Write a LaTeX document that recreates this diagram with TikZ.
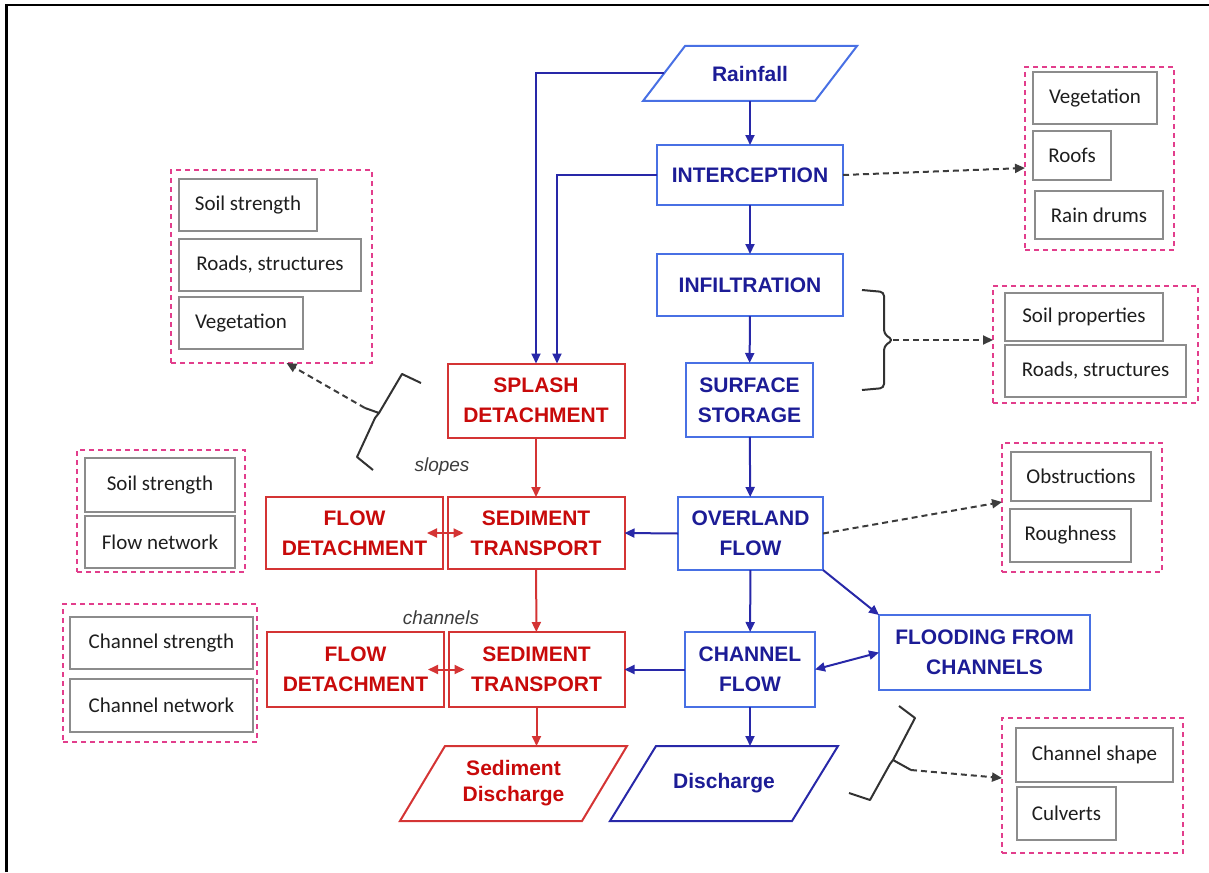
\documentclass[tikz,border=0pt]{standalone}
\usepackage{fontspec}
\setmainfont{Liberation Sans}
\newfontfamily\calibri{Carlito}
\usetikzlibrary{arrows.meta,positioning}

\definecolor{blueline}{RGB}{72,112,228}
\definecolor{bluetext}{RGB}{28,28,150}
\definecolor{bluearrow}{RGB}{40,40,168}
\definecolor{redline}{RGB}{212,52,52}
\definecolor{redtext}{RGB}{200,10,10}
\definecolor{groupline}{RGB}{226,62,140}
\definecolor{factorline}{RGB}{140,140,140}
\definecolor{factortext}{RGB}{30,30,30}
\definecolor{dashgray}{RGB}{60,60,60}
\definecolor{bracegray}{RGB}{50,50,50}

\begin{document}
\begin{tikzpicture}[x=1pt, y=-1pt,
    >={Triangle[length=10pt,width=9pt]},
    bluebox/.style={rectangle, draw=blueline, line width=2pt, text=bluetext, align=center, inner sep=2pt, outer sep=0pt, font=\bfseries\fontsize{21}{30}\selectfont},
    redbox/.style={rectangle, draw=redline, line width=2pt, text=redtext, align=center, inner sep=2pt, outer sep=0pt, font=\bfseries\fontsize{21}{30}\selectfont},
    io/.style={rectangle, inner sep=2pt, outer sep=0pt, align=center, font=\bfseries\fontsize{21}{26}\selectfont},
    factor/.style={rectangle, draw=factorline, line width=2pt, text=factortext, inner sep=2pt, outer sep=0pt, font=\calibri\fontsize{21}{25}\selectfont},
    group/.style={rectangle, draw=groupline, line width=2pt, dash pattern=on 5pt off 4pt, outer sep=0pt},
    arrow/.style={->, line width=2pt, draw=bluearrow},
    redarrow/.style={->, line width=2pt, draw=redline},
    dasharrow/.style={->, line width=2pt, dash pattern=on 6pt off 4pt, draw=dashgray},
    brace/.style={line width=2pt, draw=bracegray, line join=round},
    note/.style={font=\itshape\fontsize{19}{22}\selectfont, text=dashgray}
]
\useasboundingbox (0,0) rectangle (1209,872);

% frame
\draw[line width=2.5pt] (6.5,872) -- (6.5,5) -- (1209,5);

% water path
\node[io, text=bluetext, minimum width=172pt, minimum height=55pt] (rain) at (750,73.5) {Rainfall};
\node[bluebox, minimum width=186pt, minimum height=60pt] (intercept) at (750,175) {INTERCEPTION};
\node[bluebox, minimum width=186pt, minimum height=62pt] (infil) at (750,285) {INFILTRATION};
\node[bluebox, minimum width=127pt, minimum height=74pt] (storage) at (749.5,400) {SURFACE\\STORAGE};
\node[bluebox, minimum width=145pt, minimum height=73pt] (overland) at (750.5,533.5) {OVERLAND\\FLOW};
\node[bluebox, minimum width=130pt, minimum height=75pt] (chanflow) at (750,669.5) {CHANNEL\\FLOW};
\node[bluebox, minimum width=211pt, minimum height=75pt] (flooding) at (984.5,652.5) {FLOODING FROM\\CHANNELS};
\node[io, text=bluetext, minimum width=182pt, minimum height=75pt] (disch) at (724,783.5) {Discharge};

% sediment path
\node[redbox, minimum width=177pt, minimum height=74pt] (splash) at (536,400.5) {SPLASH\\DETACHMENT};
\node[redbox, minimum width=177pt, minimum height=72pt] (sedA) at (536,533) {SEDIMENT\\TRANSPORT};
\node[redbox, minimum width=177pt, minimum height=72pt] (detA) at (354.5,533) {FLOW\\DETACHMENT};
\node[redbox, minimum width=176pt, minimum height=75pt] (sedB) at (536.5,669.5) {SEDIMENT\\TRANSPORT};
\node[redbox, minimum width=177pt, minimum height=75pt] (detB) at (355.5,669.5) {FLOW\\DETACHMENT};
\node[io, text=redtext, minimum width=182pt, minimum height=75pt] (seddis) at (513.5,783.5) {Sediment\\Discharge};

% parallelogram outlines
\draw[draw=blueline, line width=2pt] ([xshift=21pt]rain.north west) -- ([xshift=21pt]rain.north east) -- ([xshift=-21pt]rain.south east) -- ([xshift=-21pt]rain.south west) -- cycle;
\draw[draw=bluearrow, line width=2pt] ([xshift=23pt]disch.north west) -- ([xshift=23pt]disch.north east) -- ([xshift=-23pt]disch.south east) -- ([xshift=-23pt]disch.south west) -- cycle;
\draw[draw=redline, line width=2pt] ([xshift=22.5pt]seddis.north west) -- ([xshift=22.5pt]seddis.north east) -- ([xshift=-22.5pt]seddis.south east) -- ([xshift=-22.5pt]seddis.south west) -- cycle;

\node[note] (slopes) at (442,467) {slopes};
\node[note] (channels) at (441,618) {channels};

% factor groups
\node[group, minimum width=149pt, minimum height=183pt] (g1) at (1099.5,158.5) {};
\node[factor, minimum width=124pt, minimum height=52pt] (veg1) at (1095,98) {Vegetation};
\node[factor, minimum width=78pt, minimum height=49pt] (roofs) at (1072,155.5) {Roofs};
\node[factor, minimum width=128pt, minimum height=48pt] (drums) at (1099,215) {Rain drums};

\node[group, minimum width=205pt, minimum height=117pt] (g2) at (1095.5,344.5) {};
\node[factor, minimum width=158pt, minimum height=48pt] (soilprop) at (1084,317) {Soil properties};
\node[factor, minimum width=181pt, minimum height=52pt] (roads2) at (1095.5,371) {Roads, structures};

\node[group, minimum width=201pt, minimum height=193pt] (g3) at (271.5,266.5) {};
\node[factor, minimum width=138pt, minimum height=52pt] (soil3) at (248,205) {Soil strength};
\node[factor, minimum width=182pt, minimum height=52pt] (roads3) at (270,265) {Roads, structures};
\node[factor, minimum width=124pt, minimum height=52pt] (veg3) at (241,323) {Vegetation};

\node[group, minimum width=168pt, minimum height=122pt] (g4) at (161,511) {};
\node[factor, minimum width=150pt, minimum height=54pt] (soil4) at (160,485) {Soil strength};
\node[factor, minimum width=150pt, minimum height=52pt] (flownet) at (160,542) {Flow network};

\node[group, minimum width=194pt, minimum height=138pt] (g5) at (160,673) {};
\node[factor, minimum width=183pt, minimum height=52pt] (chstr) at (161.5,643) {Channel strength};
\node[factor, minimum width=183pt, minimum height=53pt] (chnet) at (161.5,705.5) {Channel network};

\node[group, minimum width=160pt, minimum height=129pt] (g6) at (1082,507.5) {};
\node[factor, minimum width=140pt, minimum height=49pt] (obstr) at (1081,476.5) {Obstructions};
\node[factor, minimum width=121pt, minimum height=53pt] (rough) at (1070.5,535.5) {Roughness};

\node[group, minimum width=181pt, minimum height=135pt] (g7) at (1092.5,785.5) {};
\node[factor, minimum width=157pt, minimum height=54pt] (chshape) at (1094.5,755) {Channel shape};
\node[factor, minimum width=99pt, minimum height=53pt] (culv) at (1066.5,813.5) {Culverts};

% water connectors
\draw[arrow] (rain) -- (intercept);
\draw[arrow] (intercept) -- (infil);
\draw[arrow] (infil) -- (storage);
\draw[arrow] (storage) -- (overland);
\draw[arrow] (overland) -- (chanflow);
\draw[arrow] (chanflow.south) -- (chanflow.south |- disch.north);
\draw[arrow] (rain.west) -| (splash.north);
\draw[arrow] (intercept.west) -| ([xshift=21pt]splash.north);
\draw[arrow] (overland.west) -- (sedA.east);
\draw[arrow] (chanflow.west) -- (sedB.east);
\draw[arrow] (overland.south east) -- (flooding.north west);
\draw[arrow, <->] (chanflow.east) -- (flooding.west);

% sediment connectors
\draw[redarrow] (splash) -- (sedA);
\draw[redarrow] (sedA) -- (sedB);
\draw[redarrow] (sedB.south) -- (sedB.south |- seddis.north);
\draw[redarrow, <->] ([xshift=-16pt]detA.east) -- ([xshift=16pt]sedA.west);
\draw[redarrow, <->] ([xshift=-16pt]detB.east) -- ([xshift=16pt]sedB.west);

% braces
\coordinate (tipA) at (365,408);
\coordinate (tipB) at (893,340);
\coordinate (tipC) at (911,770);
\draw[brace] (421,383) -- (402,374) -- (379,413) -- (tipA) (379,413) -- (375,418) -- (357,457) -- (373,470);
\draw[brace, rounded corners=4pt] (862,290) -- (884,292) -- (884,334) -- (tipB) -- (884,346) -- (884,388) -- (862,390);
\draw[brace] (899,706) -- (915,718) -- (893,760) -- (tipC) (893,760) -- (890,764) -- (870,800) -- (849,793);

% factor links
\draw[dasharrow] (intercept.east) -- ([yshift=-9.5pt]g1.west);
\draw[dasharrow] (tipB) -- (tipB -| g2.west);
\draw[dasharrow] (overland.east) -- ([yshift=5.5pt]g6.west);
\draw[dasharrow] (tipA) -- ([xshift=15pt]g3.south);
\draw[dasharrow] (tipC) -- ([yshift=7.5pt]g7.west);

\end{tikzpicture}
\end{document}
